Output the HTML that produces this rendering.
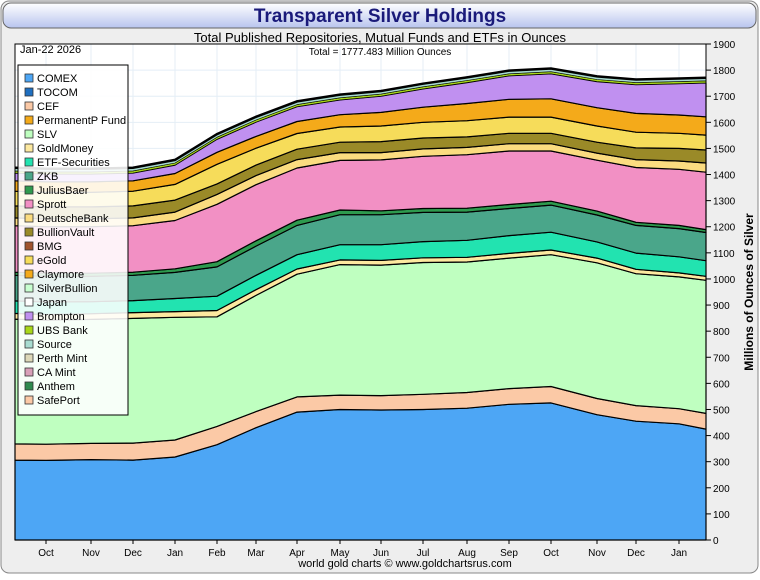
<!DOCTYPE html>
<html><head><meta charset="utf-8"><style>
body{margin:0;width:760px;height:575px;background:#fff;font-family:"Liberation Sans",sans-serif;overflow:hidden}
svg text{font-family:"Liberation Sans",sans-serif}
</style></head><body>
<svg id="chart" width="760" height="575">
<defs><linearGradient id="tg" x1="0" y1="0" x2="0" y2="1"><stop offset="0" stop-color="#ffffff"/><stop offset="1" stop-color="#b8c4ee"/></linearGradient></defs>
<rect x="1" y="1" width="757" height="572" rx="8" fill="#eeeeee" stroke="#888"/>
<rect x="3" y="3" width="753" height="25" rx="8" fill="url(#tg)" stroke="#666"/>
<text x="380" y="22" text-anchor="middle" font-size="19" font-weight="bold" fill="#1a1a7a">Transparent Silver Holdings</text>
<text x="380" y="42" text-anchor="middle" font-size="13" fill="#000">Total Published Repositories, Mutual Funds and ETFs in Ounces</text>
<rect x="15" y="44" width="691" height="496" fill="#fff"/>
<g id="grid"></g>
<g id="areas"></g>
<rect x="15" y="44" width="691" height="496" fill="none" stroke="#000"/>
<text x="20" y="53" font-size="11">Jan-22  2026</text>
<text x="380" y="55" text-anchor="middle" font-size="10">Total = 1777.483 Million Ounces</text>
<g id="yaxis"></g><g id="xaxis"></g><g id="legend"></g>
<text x="753" y="292" text-anchor="middle" font-size="12" font-weight="bold" transform="rotate(-90 753 292)">Millions of Ounces of Silver</text>
<text x="405" y="567" text-anchor="middle" font-size="11">world gold charts © www.goldchartsrus.com</text>
</svg>
<script>
const months=["Oct","Nov","Dec","Jan","Feb","Mar","Apr","May","Jun","Jul","Aug","Sep","Oct","Nov","Dec","Jan"];
const monthPos=[1,2,3,4,5,6,7,8,9,10,11,12,13,14,15,16];
const yTicks=[0,100,200,300,400,500,600,700,800,900,1000,1100,1200,1300,1400,1500,1600,1700,1800,1900];
const seriesNames=["COMEX","CEF","SLV","GoldMoney","ETF-Securities","ZKB","JuliusBaer","Sprott","DeutscheBank","BullionVault","eGold","Claymore","Brompton","UBS Bank","Source"];
const seriesColors=["#4da6f5","#fbc9a6","#bfffc0","#fde9a0","#22e3b0","#4aa68a","#2e9a4e","#f290c4","#fbdc80","#9a8a28","#f6dc5a","#f4aa1a","#c090f0","#a8d818","#a8dcd0"];
const COMEX=[306,305,308,306,318,365,430,490,500,498,500,505,520,525,480,455,445,425];
const CEF=[62,62,62,65,65,70,62,58,55,55,58,60,60,63,62,60,58,60];
const SLV=[478,475,475,478,470,420,445,470,500,500,505,500,500,505,520,505,505,510];
const GoldMoney=[22,22,22,22,22,24,22,20,18,18,18,18,18,18,18,17,15,15];
const ETFSec=[48,48,46,46,50,55,55,55,58,60,62,65,68,68,62,62,62,60];
const ZKB=[98,98,97,97,100,112,112,112,115,115,112,108,104,104,103,106,108,108];
const JuliusBaer=[12,12,12,12,14,20,20,20,18,15,15,15,15,15,15,12,12,11];
const Sprott=[178,178,178,178,185,220,215,200,190,195,200,205,205,192,195,210,215,220];
const DeutscheBank=[30,30,30,30,32,38,35,32,30,28,28,28,28,28,27,30,32,35];
const BullionVault=[46,46,46,46,46,40,40,40,40,42,42,40,40,40,42,45,48,50];
const eGold=[56,56,56,56,60,75,65,60,58,60,60,62,62,62,62,60,58,57];
const Claymore=[40,40,40,40,42,46,45,46,47,52,58,66,68,70,70,72,70,70];
const Brompton=[30,30,30,30,32,50,55,57,57,62,70,80,90,96,100,110,120,130];
const UBS=[8,8,8,8,8,8,8,8,8,8,8,8,8,8,8,8,8,8];
const Source=[12,12,12,12,12,12,12,12,12,12,12,12,12,12,12,12,12,12];
const series=[COMEX,CEF,SLV,GoldMoney,ETFSec,ZKB,JuliusBaer,Sprott,DeutscheBank,BullionVault,eGold,Claymore,Brompton,UBS,Source];
const legendNames=["COMEX","TOCOM","CEF","PermanentP Fund","SLV","GoldMoney","ETF-Securities","ZKB","JuliusBaer","Sprott","DeutscheBank","BullionVault","BMG","eGold","Claymore","SilverBullion","Japan","Brompton","UBS Bank","Source","Perth Mint","CA Mint","Anthem","SafePort"];
const legendColors=["#4da6f5","#1f6fc0","#fbc9a6","#f4aa1a","#bfffc0","#fde9a0","#22e3b0","#4aa68a","#2e9a4e","#f290c4","#fbdc80","#9a8a28","#a0522d","#f6dc5a","#f4aa1a","#c8ffd0","#ffffff","#c090f0","#a8d818","#a8dcd0","#ddd8b8","#d8a0b8","#2e8a4e","#fbc9a6"];
// x positions: point 0 is plot start, points 1..16 are month label centres, 17 is plot end
const X0=15,X1=706,Y0=540,Y1=44;
const monthX=[15,46,91,133,175,217,256,297,340,381,423,467,509,551,597,636,679,706];
function xs(i){return monthX[i];}
function ys(v){return Y0-(v/1900)*(Y0-Y1);}
const NS="http://www.w3.org/2000/svg";
function mk(t,a,p){const e=document.createElementNS(NS,t);for(const k in a)e.setAttribute(k,a[k]);p.appendChild(e);return e;}
const grid=document.getElementById('grid');
yTicks.forEach(v=>{const l=mk('line',{x1:X0,x2:X1,y1:ys(v),y2:ys(v),stroke:'#e4eef6'},grid);

});
monthPos.forEach(i=>{const l=mk('line',{x1:xs(i),x2:xs(i),y1:Y1,y2:Y0,stroke:'#e4eef6'},grid);

});
const areas=document.getElementById('areas');
const n=COMEX.length;let base=new Array(n).fill(0);
series.forEach((s,si)=>{const top=base.map((b,i)=>b+s[i]);
let d='';for(let i=0;i<n;i++)d+=(i?'L':'M')+xs(i)+','+ys(top[i]).toFixed(1);
for(let i=n-1;i>=0;i--)d+='L'+xs(i)+','+ys(base[i]).toFixed(1);d+='Z';
const p=mk('path',{d:d,fill:seriesColors[si],stroke:'#000','stroke-width':si>=13?0.6:1.2,'stroke-linejoin':'round'},areas);


base=top;});
let td='';for(let i=0;i<n;i++)td+=(i?'L':'M')+xs(i)+','+ys(base[i]).toFixed(1);
const tl=mk('path',{d:td,fill:'none',stroke:'#000','stroke-width':2.5},areas);


const ya=document.getElementById('yaxis');
yTicks.forEach(v=>{const l=mk('line',{x1:X1,x2:X1+5,y1:ys(v),y2:ys(v),stroke:'#000'},ya);


const t=mk('text',{x:X1+7,y:ys(v)+4,'font-size':10},ya);t.textContent=v;

});
const xa=document.getElementById('xaxis');
months.forEach((m,k)=>{const x=xs(monthPos[k]);
const l=mk('line',{x1:x,x2:x,y1:Y0,y2:Y0+4,stroke:'#000'},xa);


const t=mk('text',{x:x,y:556,'text-anchor':'middle','font-size':10},xa);t.textContent=m;

});
const lg=document.getElementById('legend');
const box=mk('rect',{x:18,y:65,width:110,height:350,fill:'rgba(255,255,255,0.88)',stroke:'#000'},lg);


legendNames.forEach((nm,i)=>{const y=78+i*14;
const r=mk('rect',{x:25,y:y-4,width:8,height:8,fill:legendColors[i],stroke:'#333','stroke-width':0.8},lg);


const t=mk('text',{x:37,y:y+4,'font-size':11},lg);t.textContent=nm;

});
</script>
</body></html>
